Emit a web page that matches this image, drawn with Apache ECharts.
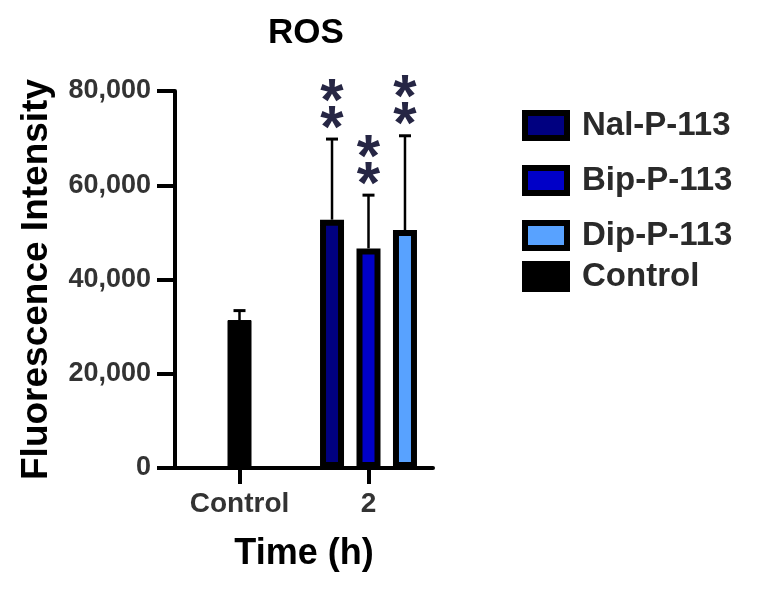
<!DOCTYPE html>
<html>
<head>
<meta charset="utf-8">
<script src="https://cdn.jsdelivr.net/npm/echarts@6/dist/echarts.min.js"></script>
<style>
  html, body { margin: 0; padding: 0; background: #fff; }
  #chart { width: 759px; height: 601px; }
</style>
</head>
<body>
<div id="chart"></div>
<script>
// 数据
var categories = ['Control', '2']
var treatNames = ['Nal-P-113', 'Bip-P-113', 'Dip-P-113']
var treatMean = [52700, 46600, 50500]
var treatSD = [17100, 11300, 20000]
var treatStars = ['**', '**', '**']
var controlName = 'Control'
var controlMean = 31400
var controlSD = 2000
var yTicks = [0, 20000, 40000, 60000, 80000]

var FONT = "'Liberation Sans', Arial, sans-serif"
var colors = ['#000080', '#0000c8', '#58a2ff']
var barW = 24
var gap = 0.52
var slotStep = barW * (1 + gap)

var chart = echarts.init(document.getElementById('chart'))

var series = []
treatNames.forEach(function (name, i) {
  series.push({
    name: name,
    type: 'bar',
    // 中间那根和对照共用一个位置
    stack: i === 1 ? 'mid' : undefined,
    barWidth: barW,
    barGap: (gap * 100) + '%',
    itemStyle: { color: colors[i], borderColor: '#000', borderWidth: 6 },
    data: ['-', treatMean[i]]
  })
})
series.push({
  name: controlName,
  type: 'bar',
  stack: 'mid',
  barWidth: barW,
  itemStyle: { color: '#000', borderColor: '#000', borderWidth: 1 },
  data: [controlMean, '-']
})

// 误差线 + 星号
var errData = [[0, controlMean, controlSD, 0, '']]
treatNames.forEach(function (name, i) {
  errData.push([1, treatMean[i], treatSD[i], i - 1, treatStars[i]])
})
series.push({
  type: 'custom',
  z: 5,
  data: errData,
  renderItem: function (params, api) {
    var d = errData[params.dataIndex]
    var base = api.coord([d[0], d[1]])
    var top = api.coord([d[0], d[1] + d[2]])
    var x = base[0] + d[3] * slotStep
    var children = [
      { type: 'line', shape: { x1: x, y1: base[1], x2: x, y2: top[1] }, style: { stroke: '#000', lineWidth: 2.5 } },
      { type: 'line', shape: { x1: x - 6, y1: top[1], x2: x + 6, y2: top[1] }, style: { stroke: '#000', lineWidth: 3 } }
    ]
    for (var k = 0; k < d[4].length; k++) {
      children.push({
        type: 'text',
        style: {
          x: x, y: top[1] - 9 - k * 27,
          text: '*', font: 'bold 60px ' + FONT, fill: '#262644',
          align: 'center', verticalAlign: 'middle'
        }
      })
    }
    return { type: 'group', children: children }
  }
})

var legendText = { fontFamily: FONT, fontSize: 33, fontWeight: 'bold', color: '#2a2a2a', padding: [0, 0, 0, 10] }

chart.setOption({
  animation: false,
  title: {
    text: 'ROS',
    left: 263,
    top: 11,
    textStyle: { fontFamily: FONT, fontSize: 35, fontWeight: 'bold', color: '#000' }
  },
  legend: [
    {
      data: treatNames,
      orient: 'vertical',
      icon: 'rect',
      left: 517,
      top: 104,
      itemGap: 22,
      itemWidth: 42,
      itemHeight: 25,
      itemStyle: { borderColor: '#000', borderWidth: 6 },
      textStyle: legendText
    },
    {
      data: [controlName],
      orient: 'vertical',
      icon: 'rect',
      left: 517,
      top: 255,
      itemWidth: 42,
      itemHeight: 25,
      itemStyle: { borderColor: '#000', borderWidth: 6 },
      textStyle: legendText
    }
  ],
  grid: { left: 175, right: 326, top: 91, bottom: 133 },
  xAxis: {
    type: 'category',
    data: categories,
    name: 'Time (h)',
    nameLocation: 'middle',
    nameGap: 68,
    nameTextStyle: { fontFamily: FONT, fontSize: 36, fontWeight: 'bold', color: '#000' },
    axisLine: { lineStyle: { color: '#000', width: 4 } },
    axisTick: { show: true, alignWithLabel: true, interval: 0, length: 16, lineStyle: { color: '#000', width: 4 } },
    axisLabel: { interval: 0, margin: 22, fontFamily: FONT, fontSize: 28, fontWeight: 'bold', color: '#333' }
  },
  yAxis: {
    type: 'value',
    min: yTicks[0],
    max: yTicks[yTicks.length - 1],
    interval: yTicks[1] - yTicks[0],
    name: 'Fluorescence Intensity',
    nameLocation: 'middle',
    nameGap: 120,
    nameTextStyle: { fontFamily: FONT, fontSize: 37, fontWeight: 'bold', color: '#000' },
    splitLine: { show: false },
    axisLine: { show: true, lineStyle: { color: '#000', width: 4 } },
    axisTick: { show: true, length: 18, lineStyle: { color: '#000', width: 4 } },
    axisLabel: {
      margin: 24, fontFamily: FONT, fontSize: 27, fontWeight: 'bold', color: '#333',
      formatter: function (v) { return v.toLocaleString('en-US') }
    }
  },
  series: series
})
</script>
</body>
</html>
